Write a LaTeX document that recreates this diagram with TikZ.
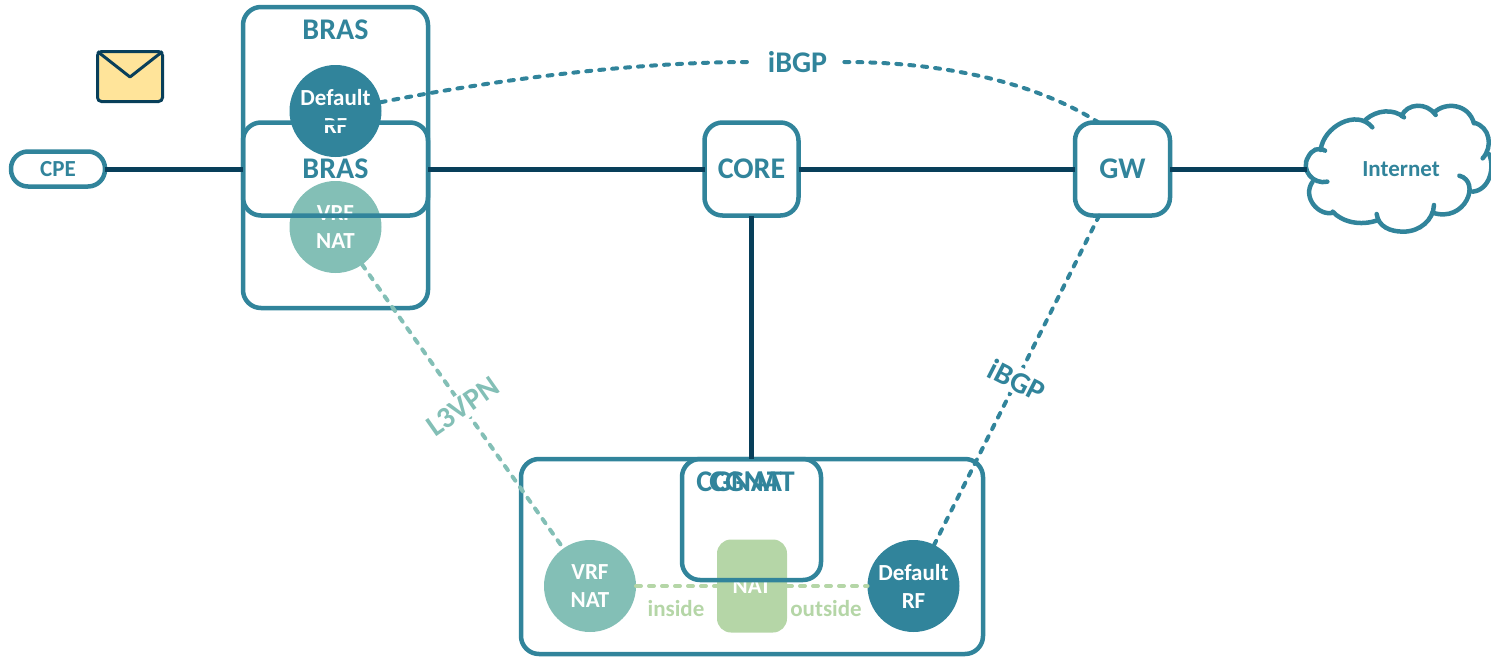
\documentclass[tikz,border=0pt]{standalone}
\usepackage{fontspec}
\setmainfont{Carlito}
\usepackage{tikz}
\usetikzlibrary{positioning}

\definecolor{tealc}{HTML}{31849B}
\definecolor{lightc}{HTML}{83BFB6}
\definecolor{greenc}{HTML}{B5D6A7}
\definecolor{navyc}{HTML}{083F5A}
\definecolor{mailc}{HTML}{FFE49A}

\newcommand{\bigtxt}{\bfseries\fontsize{30}{36}\selectfont}
\newcommand{\smalltxt}{\bfseries\fontsize{23}{28}\selectfont}

\tikzset{
  box/.style={draw=tealc,line width=4.5pt,rounded corners=18pt,inner sep=0pt,outer sep=0pt,text=tealc,font=\bigtxt},
  disc/.style={circle,minimum size=92pt,inner sep=0pt,outer sep=0pt,text=white,align=center,font=\smalltxt},
  title/.style={text=tealc,font=\bigtxt,inner sep=0pt},
  backbone/.style={draw=navyc,line width=5pt},
  dots/.style={line width=4pt,line cap=round,dash pattern=on 5pt off 8pt},
  note/.style={fill=white,font=\bigtxt,inner sep=3pt}
}

\begin{document}
\begin{tikzpicture}[x=1pt,y=-1pt]
\useasboundingbox (0,0) rectangle (1491,656);

\node[draw=navyc,fill=mailc,line width=3pt,rounded corners=4pt,minimum width=65pt,minimum height=50pt,inner sep=0pt,outer sep=0pt] (MAIL) at (130,76.5) {};
\coordinate (MAILtip) at (130,77);
\draw[draw=navyc,line width=3pt,line join=round] (MAIL.north west) -- (MAILtip) -- (MAIL.north east);

\node[box,minimum width=185pt,minimum height=301pt] (BRAS) at (335.5,157.5) {};
\node[box,minimum width=462pt,minimum height=195pt] (CGNAT) at (752,556.5) {};

\node[disc,fill=tealc] (DEFb) at (335.5,111) {Default\\RF};
\node[disc,fill=lightc] (VRFb) at (335.5,227) {VRF\\NAT};
\node[disc,fill=lightc] (VRFc) at (590,586) {VRF\\NAT};
\node[disc,fill=tealc] (DEFc) at (913.5,586) {Default\\RF};
\node[fill=greenc,rounded corners=14pt,minimum width=70pt,minimum height=93pt,inner sep=0pt,outer sep=0pt,text=white,font=\smalltxt] (NAT) at (752,586) {\raisebox{-2pt}{NAT}};

\node[box,minimum width=185pt,minimum height=93pt] (BRASin) at (335.5,169) {BRAS};
\node[box,rounded corners=17pt,minimum width=94pt,minimum height=35pt,font=\smalltxt] (CPE) [left of=BRASin, node distance=277.5pt] {CPE};
\node[box,minimum width=94pt,minimum height=93pt] (CORE) [right of=BRASin, node distance=416pt] {CORE};
\node[box,minimum width=95pt,minimum height=93pt] (GW) [right of=CORE, node distance=371pt] {GW};
\node[box,minimum width=139pt,minimum height=121pt] (CGNATin) at (751.5,519.5) {};
\node[inner sep=0pt,outer sep=0pt,minimum width=188pt,text=tealc,font=\smalltxt] (INET) at (1401,169) {Internet};

\node[title] (BRAStitle) at (335.5,30) {BRAS};
\node[title] (CGNATa) at (739,482) {CGNAT};
\node[title] (CGNATb) at (752,482) {CGNAT};
\node[text=greenc,font=\smalltxt,inner sep=0pt] (INSIDE) at (676,609) {inside};
\node[text=greenc,font=\smalltxt,inner sep=0pt] (OUTSIDE) at (826,609) {outside};
\node[text=tealc,font=\bigtxt,inner xsep=17pt,inner ysep=3pt] (IBGPtop) at (797.5,62) {iBGP};

% cloud
\begin{scope}[shift={(1290,90)},x=0.3333pt,y=-0.3333pt,draw=tealc,line width=4.5pt,line cap=round]
\draw (92,180) .. controls (100,110) and (200,55) .. (247,112);
\draw (228,88) .. controls (260,60) and (310,55) .. (342,82);
\draw (335,78) .. controls (350,40) and (410,35) .. (437,75);
\draw (432,68) .. controls (465,35) and (535,40) .. (552,100);
\draw (552,98) .. controls (600,110) and (610,170) .. (578,205);
\draw (597,192) .. controls (615,230) and (600,300) .. (548,305);
\draw (508,257) .. controls (575,275) and (525,400) .. (428,368);
\draw (432,345) .. controls (430,390) and (390,425) .. (340,425) .. controls (300,425) and (265,410) .. (260,372);
\draw (265,390) .. controls (210,410) and (155,395) .. (128,365);
\draw (130,368) .. controls (85,380) and (35,320) .. (68,275);
\draw (112,275) .. controls (70,285) and (30,240) .. (55,200) .. controls (65,180) and (85,170) .. (105,182);
\end{scope}

\path[backbone]
	(CPE) edge (BRASin)
	(BRASin) edge (CORE)
	(CORE) edge (GW)
	(GW) edge (INET)
	(CORE) edge (CGNATin);

\draw[dots,draw=tealc] (DEFb.11) .. controls (520,75) and (650,62) .. (IBGPtop.west);
\draw[dots,draw=tealc] (IBGPtop.east) .. controls (950,62) and (1040,85) .. ([xshift=-24pt]GW.north);

\path[dots,draw=lightc] (VRFb) edge node[note,text=lightc,rotate=35] (L3VPN) {L3VPN} (VRFc);
\path[dots,draw=tealc] (GW) edge node[note,text=tealc,rotate=-27] (IBGPlow) {iBGP} (DEFc);
\path[dots,draw=greenc]
	(VRFc) edge (NAT)
	(NAT) edge (DEFc);
\end{tikzpicture}
\end{document}
